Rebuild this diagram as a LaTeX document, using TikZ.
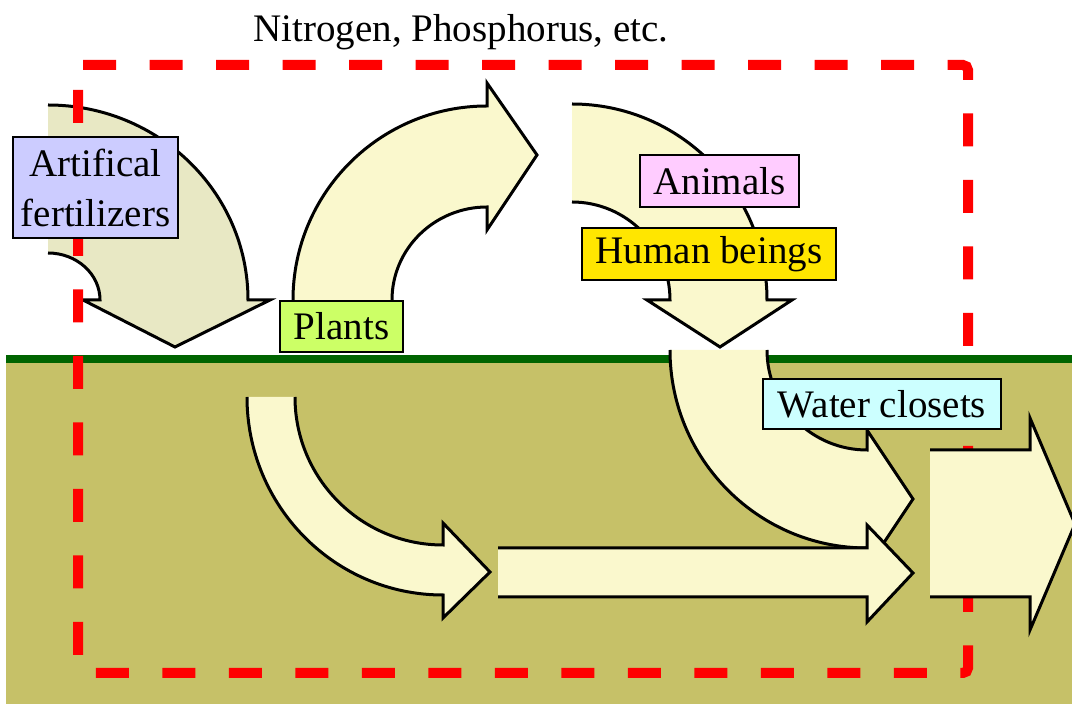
\documentclass[tikz,border=0pt]{standalone}
\usepackage{fontspec}
\setmainfont{Liberation Serif}
\newfontfamily\timesfont{Liberation Serif}
\usepackage{tikz}
\definecolor{cream}{RGB}{250,248,205}
\definecolor{paleolive}{RGB}{232,232,196}
\definecolor{soil}{RGB}{198,193,104}
\definecolor{grass}{RGB}{0,100,0}
\definecolor{lavender}{RGB}{204,204,255}
\definecolor{lime}{RGB}{204,255,102}
\definecolor{pink}{RGB}{255,204,255}
\definecolor{gold}{RGB}{255,230,0}
\definecolor{sky}{RGB}{204,255,255}
\tikzstyle{blk}=[draw,line width=3pt,fill=cream]
\tikzstyle{lbl}=[draw,line width=2.5pt,inner sep=0pt,font=\timesfont\fontsize{39}{50}\selectfont]
\tikzstyle{border}=[draw=red,line width=10pt,rounded corners=5pt,dash pattern=on 33pt off 33.5pt]

\begin{document}
\begin{tikzpicture}[x=1pt,y=1pt]
	\useasboundingbox (0,0) rectangle (1072,704);
	\clip (0,0) rectangle (1072,704);
	\fill[white] (0,0) rectangle (1072,704);
	\fill[soil] (6,0) rectangle (1072,341);
	\draw[grass,line width=8pt] (6,345) -- (1072,345);

	\path[blk,fill=paleolive] (48,599) arc[start angle=90,end angle=0,x radius=200pt,y radius=195pt]
		-- (270,404) -- (175,357) -- (83,404) -- (100,404)
		arc[start angle=0,end angle=90,x radius=52pt,y radius=47pt];

	\path[border] (78,639) -- (968,639) -- (968,31) -- (78,31) -- cycle;

	\path[blk] (293,404) arc[start angle=180,end angle=90,x radius=194pt,y radius=194pt]
		-- (487,621) -- (537,549) -- (487,474) -- (487,497)
		arc[start angle=90,end angle=180,x radius=95pt,y radius=93pt];
	\path[blk] (572,600) arc[start angle=90,end angle=0,x radius=195pt,y radius=196pt]
		-- (792,404) -- (720,357) -- (647,404) -- (670,404)
		arc[start angle=0,end angle=90,x radius=98pt,y radius=98pt];
	\path[blk] (670,354) arc[start angle=180,end angle=270,x radius=197pt,y radius=198pt]
		-- (867,136) -- (913,205) -- (867,274) -- (867,254)
		arc[start angle=270,end angle=180,x radius=100pt,y radius=100pt];
	\path[blk] (247,307) arc[start angle=180,end angle=270,x radius=196pt,y radius=198pt]
		-- (443,86) -- (490,132) -- (443,181) -- (443,159)
		arc[start angle=270,end angle=180,x radius=148pt,y radius=148pt];
	\path[blk] (498,156) -- (867,156) -- (867,179) -- (913,131) -- (867,82) -- (867,107) -- (498,107);
	\path[blk] (930,254) -- (1030,254) -- (1030,286) -- (1075,180) -- (1030,74) -- (1030,107) -- (930,107);

	\node[lbl,fill=lavender,minimum width=165pt,minimum height=101pt,align=center] (fert) at (95.5,516.5) {Artifical\\fertilizers};
	\node[lbl,fill=lime,minimum width=123pt,minimum height=51pt] (plants) at (341.5,377.5) {Plants};
	\node[lbl,fill=pink,minimum width=159pt,minimum height=52pt] (animals) at (719.5,523) {Animals};
	\node[lbl,fill=gold,minimum width=254pt,minimum height=52pt] (human) at (709,450) {Human beings};
	\node[lbl,fill=sky,minimum width=238pt,minimum height=50pt] (water) at (882,300) {Water closets};
	\node[font=\timesfont\fontsize{39}{46}\selectfont,anchor=base] (title) at (461,662) {Nitrogen, Phosphorus, etc.};
\end{tikzpicture}
\end{document}
